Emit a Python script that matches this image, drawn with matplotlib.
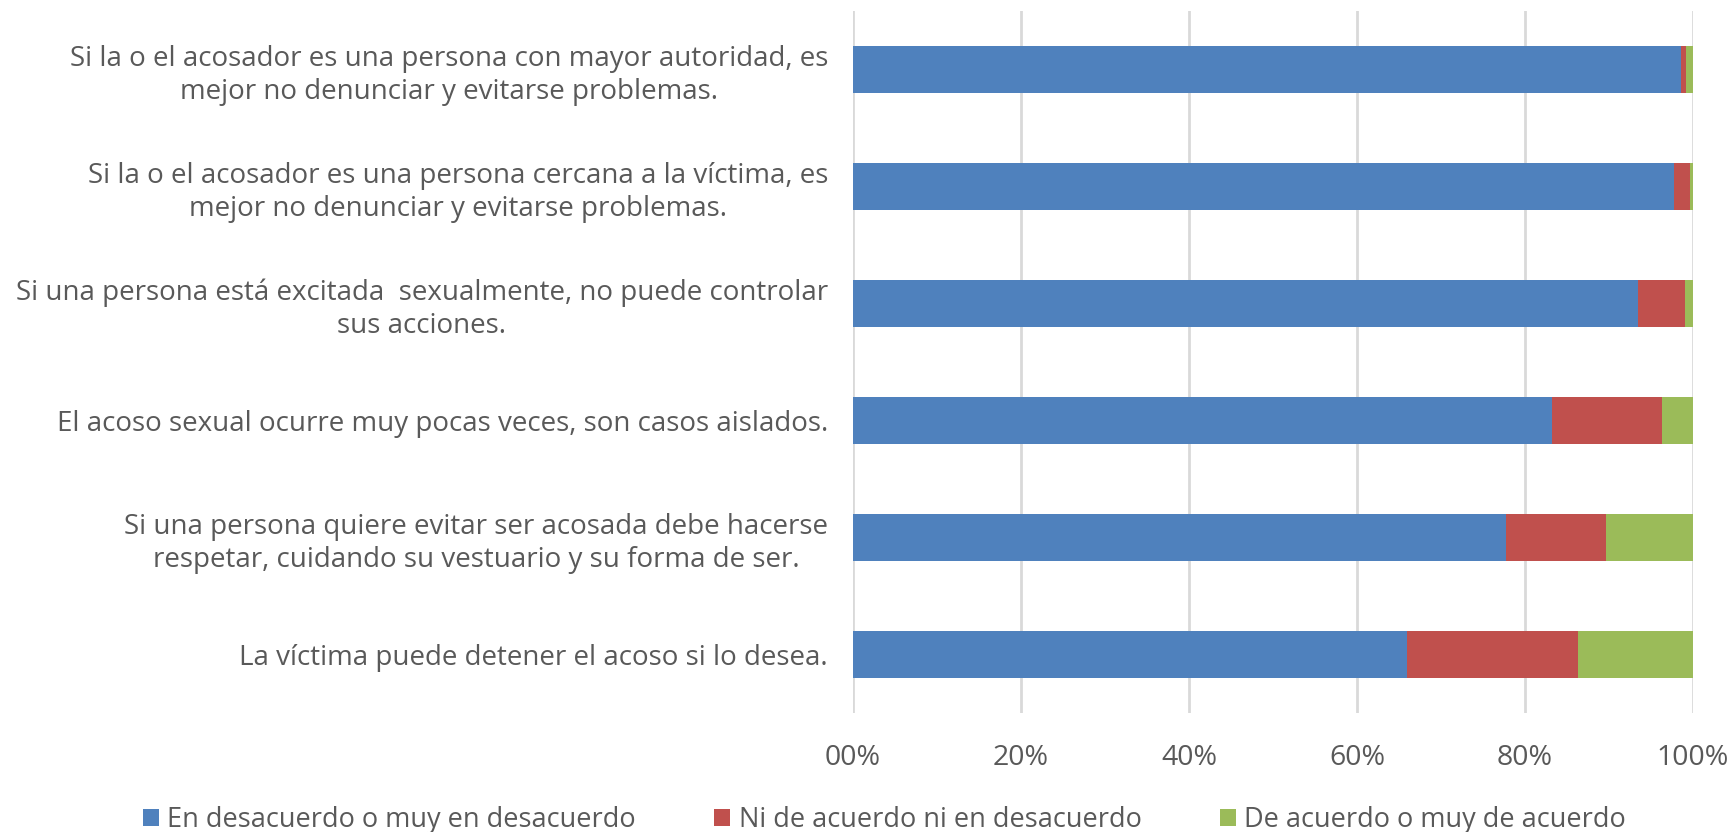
import numpy as np
import matplotlib
matplotlib.use("Agg")
from matplotlib import pyplot as plt
from matplotlib.ticker import FuncFormatter

# survey statements (top to bottom)
labels = [
    "Si la o el acosador es una persona con mayor autoridad, es\nmejor no denunciar y evitarse problemas.",
    "Si la o el acosador es una persona cercana a la víctima, es\nmejor no denunciar y evitarse problemas.",
    "Si una persona está excitada  sexualmente, no puede controlar\nsus acciones.",
    "El acoso sexual ocurre muy pocas veces, son casos aislados.",
    "Si una persona quiere evitar ser acosada debe hacerse\nrespetar, cuidando su vestuario y su forma de ser.",
    "La víctima puede detener el acoso si lo desea.",
]
series_names = [
    "En desacuerdo o muy en desacuerdo",
    "Ni de acuerdo ni en desacuerdo",
    "De acuerdo o muy de acuerdo",
]
desacuerdo = [98.6, 97.7, 93.4, 83.2, 77.7, 66.0]
neutral = [0.6, 1.9, 5.6, 13.1, 12.0, 20.3]
acuerdo = [0.8, 0.4, 1.0, 3.7, 10.3, 13.7]
colors = ["#4F81BD", "#C0504D", "#9BBB59"]
xticks = [0, 20, 40, 60, 80, 100]

txt = "#595959"
plt.rcParams['font.family'] = ['Open Sans', 'DejaVu Sans']

fig = plt.figure(figsize=(17.34, 8.32), dpi=100)
ax = fig.add_axes([853 / 1734, 119 / 832, 840 / 1734, 702 / 832])

y = np.arange(len(labels))
left = np.zeros(len(labels))
for vals, name, c in zip([desacuerdo, neutral, acuerdo], series_names, colors):
    ax.barh(y, vals, left=left, height=0.4, color=c, label=name, zorder=3)
    left += np.array(vals)

ax.set_ylim(len(labels) - 0.5, -0.5)
ax.set_xlim(0, 100)
ax.set_yticks(y)
ax.set_yticklabels(labels, fontsize=20, color=txt, linespacing=1.22)
for lab in ax.get_yticklabels():
    lab.set_multialignment('center')
ax.set_xticks(xticks)
ax.xaxis.set_major_formatter(FuncFormatter(lambda v, p: "%02d%%" % v))
ax.tick_params(axis='x', length=0, pad=22, labelsize=20.5, labelcolor=txt)
ax.tick_params(axis='y', length=0, pad=18)
ax.grid(axis='x', color="#D9D9D9", linewidth=2, zorder=0)
for s in ax.spines.values():
    s.set_visible(False)

fig.legend(loc='center', bbox_to_anchor=(0.51, 0.014), ncol=3, frameon=False,
           fontsize=19.5, labelcolor=txt, handlelength=0.6, handleheight=0.6,
           handletextpad=0.3, columnspacing=2.9)

fig.savefig("out.png", dpi=100)
